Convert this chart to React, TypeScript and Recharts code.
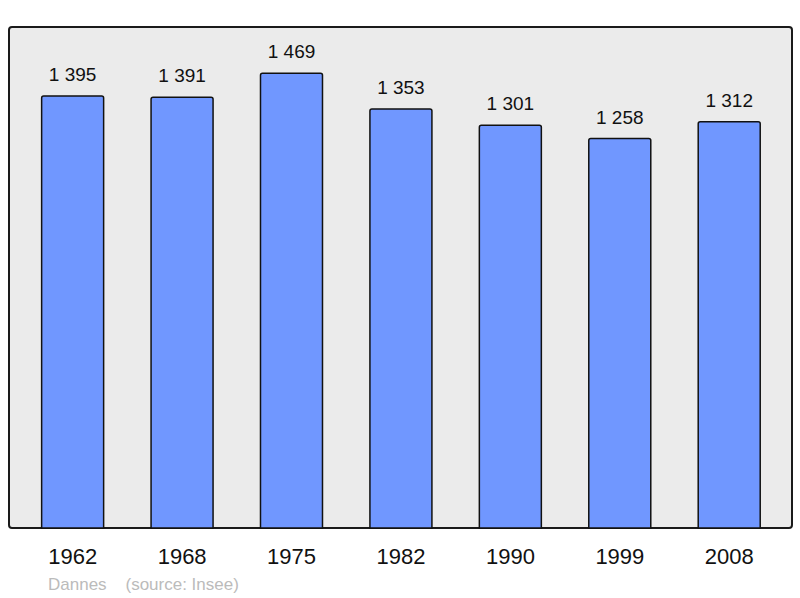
import { BarChart, Bar, XAxis, YAxis, LabelList } from "recharts";

const years = ["1962", "1968", "1975", "1982", "1990", "1999", "2008"];
const population = [1395, 1391, 1469, 1353, 1301, 1258, 1312];

const data = years.map((year, i) => ({ year, population: population[i] }));

// "1 395" style, space as thousands separator like the original
const fmt = (v: number) => {
  const s = String(v);
  return s.length > 3 ? s.slice(0, s.length - 3) + " " + s.slice(-3) : s;
};

const YearTick = (props: any) => {
  const { x, y, payload } = props;
  return (
    <text x={x} y={y} dy={28} textAnchor="middle" fontSize={22} fill="#111">
      {payload.value}
    </text>
  );
};

export default function App() {
  return (
    <div
      style={{
        position: "fixed",
        left: 0,
        top: 0,
        width: 800,
        height: 598,
        background: "#fff",
        fontFamily: "'Liberation Sans', Arial, sans-serif",
      }}
    >
      {/* grey panel behind the plot */}
      <div
        style={{
          position: "absolute",
          left: 8,
          top: 26,
          width: 781,
          height: 499,
          background: "#ebebeb",
          border: "2px solid #1a1a1a",
          borderRadius: 4,
        }}
      />
      <div style={{ position: "absolute", left: 0, top: 0 }}>
        <BarChart
          width={800}
          height={598}
          data={data}
          margin={{ top: 28, right: 16, bottom: 40, left: 18 }}
          barCategoryGap="21.6%"
        >
          <XAxis
            dataKey="year"
            height={30}
            axisLine={false}
            tickLine={false}
            tick={<YearTick />}
            interval={0}
          />
          <YAxis hide domain={[0, 1615]} />
          <Bar
            dataKey="population"
            fill="#7097ff"
            stroke="#111"
            strokeWidth={1.5}
            radius={[2, 2, 0, 0]}
            isAnimationActive={false}
          >
            <LabelList
              dataKey="population"
              position="top"
              offset={15}
              formatter={(v: any) => fmt(Number(v))}
              style={{ fontSize: 19, fill: "#111" }}
            />
          </Bar>
        </BarChart>
      </div>
      <div
        style={{
          position: "absolute",
          left: 48,
          top: 575,
          fontSize: 17,
          color: "#bbb",
          whiteSpace: "pre",
        }}
      >
        {"Dannes    (source: Insee)"}
      </div>
    </div>
  );
}
